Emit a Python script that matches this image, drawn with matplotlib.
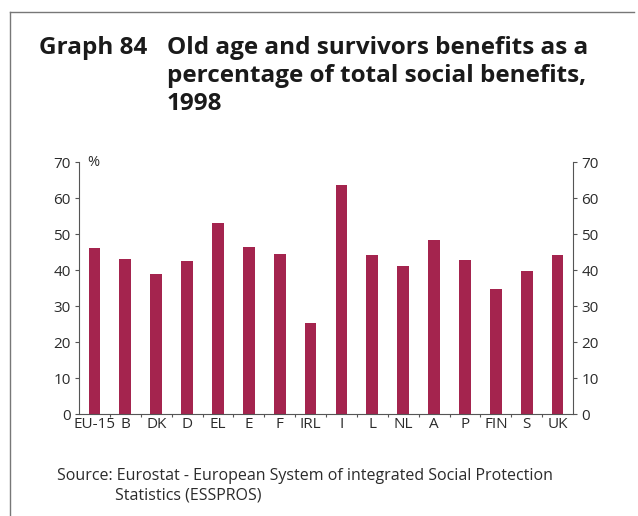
import numpy as np
import matplotlib
matplotlib.use('Agg')
import matplotlib.pyplot as plt
from matplotlib.lines import Line2D

countries = ['EU-15', 'B', 'DK', 'D', 'EL', 'E', 'F', 'IRL', 'I', 'L', 'NL', 'A', 'P', 'FIN', 'S', 'UK']
share = [46.0, 43.0, 38.8, 42.6, 53.1, 46.5, 44.5, 25.4, 63.7, 44.2, 41.0, 48.2, 42.9, 34.6, 39.8, 44.1]
y_ticks = [0, 10, 20, 30, 40, 50, 60, 70]

bar_color = '#a4244e'
text_color = '#2b2b2b'
plt.rcParams['font.family'] = ['Open Sans', 'DejaVu Sans']

fig = plt.figure(figsize=(6.38, 5.16), dpi=100)
ax = fig.add_axes([79 / 638, 1 - 414 / 516, (573 - 79) / 638, (414 - 162) / 516])

x = np.arange(len(countries))
ax.bar(x, share, width=0.38, color=bar_color, zorder=2)

ax.set_xlim(-0.5, len(countries) - 0.5)
ax.set_ylim(0, 70)
ax.set_yticks(y_ticks)
ax.set_xticks(x)
ax.set_xticklabels(countries)
ax.set_xticks(np.arange(len(countries) - 1) + 0.5, minor=True)

ax.spines['top'].set_visible(False)
for s in ['left', 'right', 'bottom']:
    ax.spines[s].set_color('#555555')
    ax.spines[s].set_linewidth(0.8)

ax.tick_params(axis='y', which='major', left=True, right=True, labelleft=True, labelright=True,
               length=3, width=0.8, color='#555555', labelsize=11, labelcolor=text_color, pad=3)
ax.tick_params(axis='x', which='major', length=0, labelsize=11, labelcolor=text_color, pad=2)
ax.tick_params(axis='x', which='minor', length=2, width=0.8, color='#555555')

ax.text(0.028, 70, '%', transform=ax.get_yaxis_transform(), fontsize=10.5, color=text_color,
        va='center', ha='center')

# title block
title_size = 17.5
fig.text(39 / 638, 1 - 54 / 516, 'Graph 84', fontsize=title_size, fontweight='bold', color='#1a1a1a',
         ha='left', va='baseline')
title_lines = ['Old age and survivors benefits as a', 'percentage of total social benefits,', '1998']
for i, line in enumerate(title_lines):
    fig.text(167 / 638, 1 - (54 + 28 * i) / 516, line, fontsize=title_size, fontweight='bold',
             color='#1a1a1a', ha='left', va='baseline')

fig.text(57 / 638, 1 - 476 / 516, 'Source: Eurostat - European System of integrated Social Protection',
         fontsize=11.5, color=text_color, ha='left', va='center')
fig.text(115 / 638, 1 - 496 / 516, 'Statistics (ESSPROS)', fontsize=11.5, color=text_color,
         ha='left', va='center')

# frame lines
fig.add_artist(Line2D([10 / 638, 634 / 638], [1 - 12 / 516, 1 - 12 / 516], color='#777777', lw=1.0))
fig.add_artist(Line2D([10 / 638, 10 / 638], [1 - 12 / 516, 0], color='#777777', lw=1.0))

fig.savefig('out.png', dpi=100)
